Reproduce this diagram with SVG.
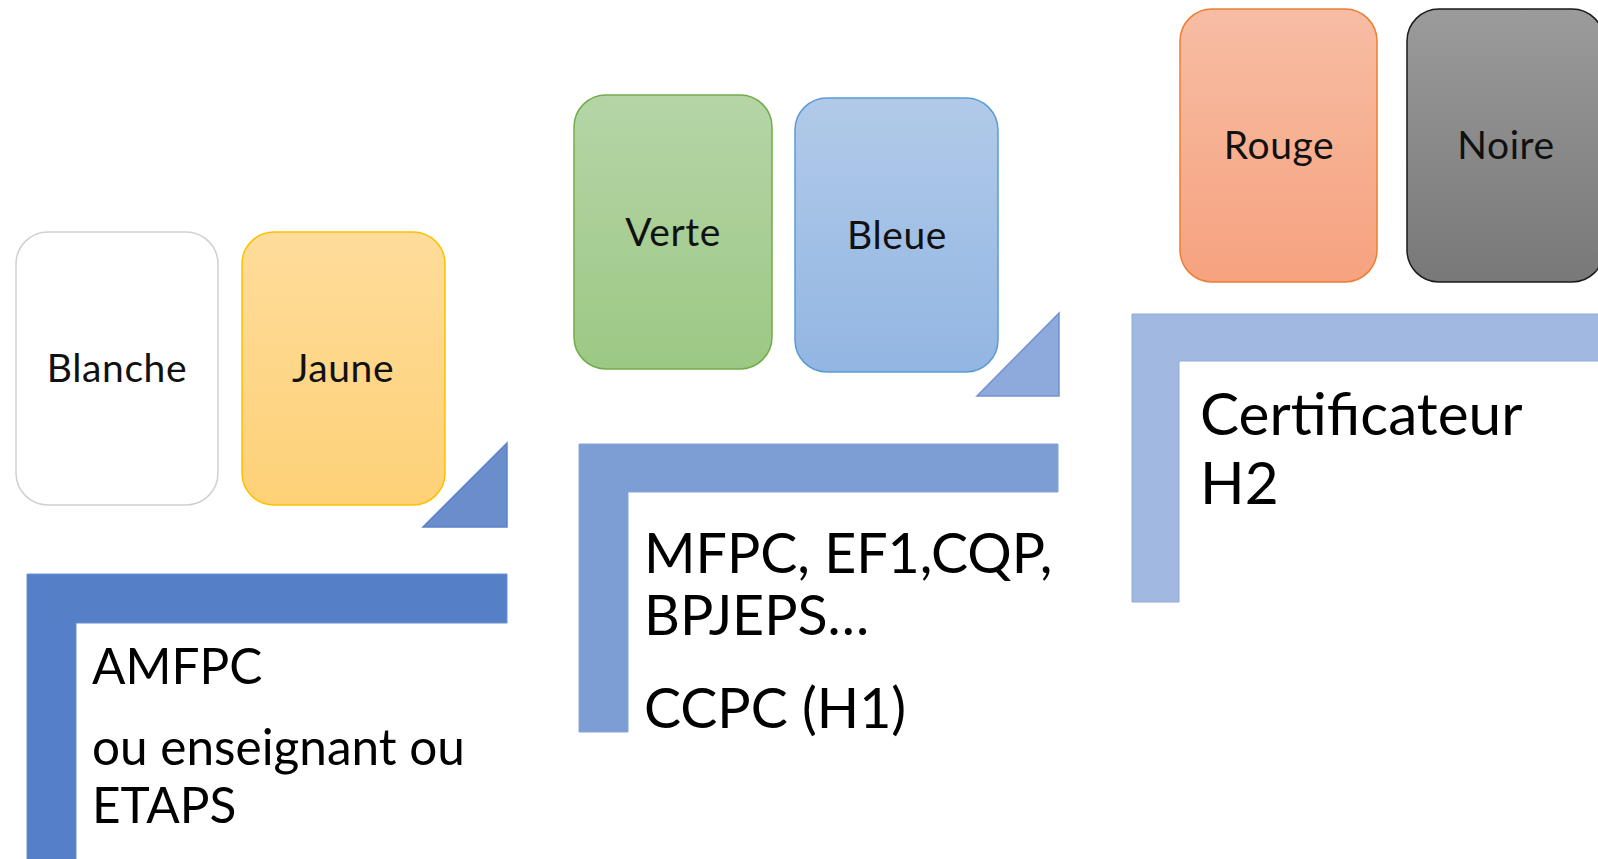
<svg xmlns="http://www.w3.org/2000/svg" width="1598" height="859" viewBox="0 0 1598 859">
<defs>
<linearGradient id="gJ" x1="0" y1="0" x2="0" y2="1"><stop offset="0" stop-color="#FEDC9A"/><stop offset="1" stop-color="#FED178"/></linearGradient>
<linearGradient id="gV" x1="0" y1="0" x2="0" y2="1"><stop offset="0" stop-color="#B5D5A7"/><stop offset="1" stop-color="#9CC884"/></linearGradient>
<linearGradient id="gB" x1="0" y1="0" x2="0" y2="1"><stop offset="0" stop-color="#B2CAE9"/><stop offset="1" stop-color="#92B6E2"/></linearGradient>
<linearGradient id="gR" x1="0" y1="0" x2="0" y2="1"><stop offset="0" stop-color="#F7BDA4"/><stop offset="1" stop-color="#F6A27F"/></linearGradient>
<linearGradient id="gN" x1="0" y1="0" x2="0" y2="1"><stop offset="0" stop-color="#9B9B9B"/><stop offset="1" stop-color="#787878"/></linearGradient>
</defs>
<style>
.card{stroke-width:1.5}
.cl{font-family:Lato,"Open Sans",sans-serif;font-weight:400;font-size:39px;letter-spacing:0.6px;fill:#111;text-anchor:middle}
.bt{font-family:Lato,"Carlito","Liberation Sans",sans-serif;fill:#000}
</style>
<rect width="1598" height="859" fill="#fff"/>
<g id="blanche"><rect class="card" x="16" y="232" width="202" height="273" rx="32" fill="#fff" stroke="#D0D0D0"/><text class="cl" x="117" y="382">Blanche</text></g>
<g id="jaune"><rect class="card" x="242" y="232" width="203" height="273" rx="32" fill="url(#gJ)" stroke="#FFC000"/><text class="cl" x="343" y="382">Jaune</text></g>
<g id="verte"><rect class="card" x="574" y="95" width="198" height="274" rx="32" fill="url(#gV)" stroke="#70AD47"/><text class="cl" x="673" y="246">Verte</text></g>
<g id="bleue"><rect class="card" x="795" y="98" width="203" height="274" rx="32" fill="url(#gB)" stroke="#5B9BD5"/><text class="cl" x="897" y="249">Bleue</text></g>
<g id="rouge"><rect class="card" x="1180" y="9" width="197" height="273" rx="32" fill="url(#gR)" stroke="#ED7D31"/><text class="cl" x="1279" y="159">Rouge</text></g>
<g id="noire"><rect class="card" x="1407" y="9" width="197" height="273" rx="32" fill="url(#gN)" stroke="#1a1a1a"/><text class="cl" x="1506" y="159">Noire</text></g>
<g id="tri1"><polygon points="423,527 507,527 507,443" fill="#6A8ECC" stroke="#5B82C8" stroke-width="1.5"/></g>
<g id="tri2"><polygon points="977,396 1059,396 1059,313" fill="#8EA9DB" stroke="#7092D0" stroke-width="1.5"/></g>
<g id="level1"><path d="M27,574 H507 V623 H76 V860 H27 Z" fill="#5580C8" stroke="#6A90D0" stroke-width="1"/>
<text class="bt" font-size="49.5"><tspan x="92" y="684">AMFPC</tspan><tspan x="92" y="765">ou enseignant ou</tspan><tspan x="92" y="823">ETAPS</tspan></text></g>
<g id="level2"><path d="M579,444 H1058 V492 H628 V732 H579 Z" fill="#7C9ED4" stroke="#86A6D8" stroke-width="1"/>
<text class="bt" font-size="55.5"><tspan x="644" y="573">MFPC, EF1,CQP,</tspan><tspan x="644" y="635">BPJEPS…</tspan><tspan x="644" y="728">CCPC (H1)</tspan></text></g>
<g id="level3"><path d="M1132,314 H1600 V361 H1179 V602 H1132 Z" fill="#A1B8E0" stroke="#8EAADC" stroke-width="1"/>
<text class="bt" font-size="58.5"><tspan x="1200" y="435">Certificateur</tspan><tspan x="1200" y="504">H2</tspan></text></g>
<g id="connectors"/>
</svg>
